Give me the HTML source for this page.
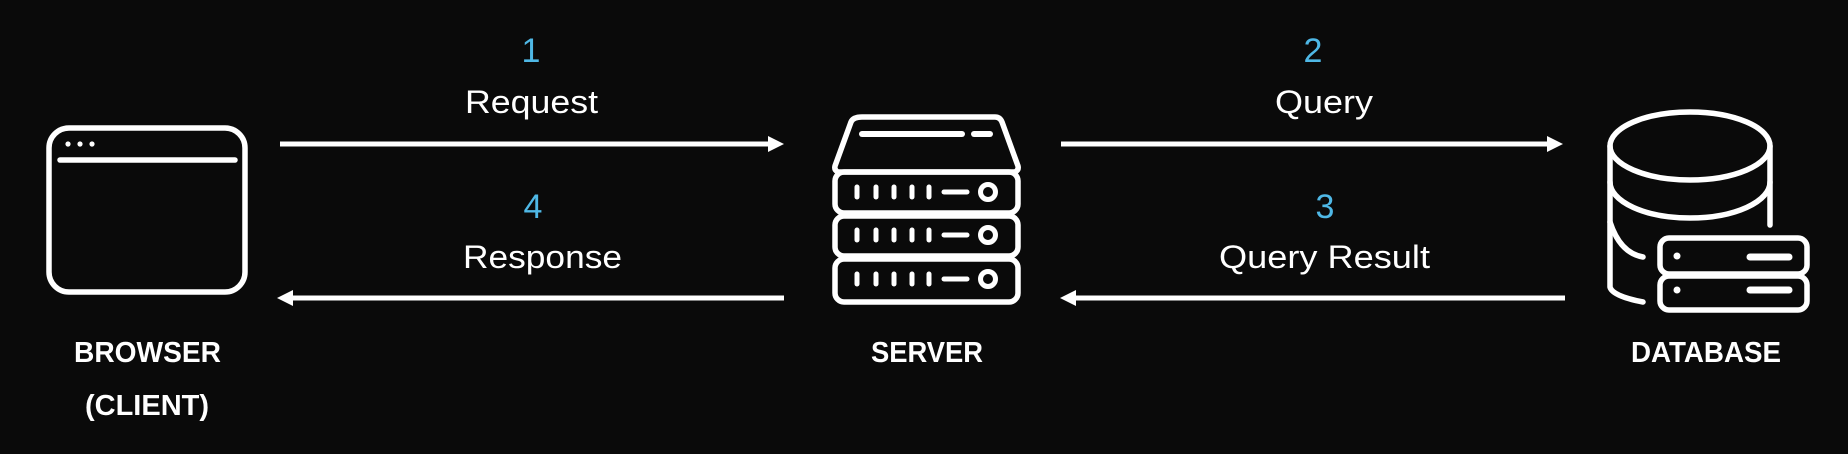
<!DOCTYPE html>
<html><head><meta charset="utf-8"><style>
html,body{margin:0;padding:0;background:#0a0a0a;}
svg{display:block;}
text{font-family:"Liberation Sans",sans-serif;fill:#fff;}
</style></head><body>
<svg width="1848" height="454" viewBox="0 0 1848 454" xmlns="http://www.w3.org/2000/svg">
<rect width="1848" height="454" fill="#0a0a0a"/>
<g fill="none" stroke="#fff" stroke-width="5.5" stroke-linecap="round" stroke-linejoin="round">
  <rect x="49" y="128" width="196" height="164" rx="20"/>
  <line x1="60" y1="160" x2="235" y2="160"/>
  <path d="M862 117 L995 117 Q1000 117 1002 122 L1018 166 Q1019 170 1015 172 L838 172 Q834 170 835 166 L851 122 Q853 117 862 117 Z"/>
  <line x1="862" y1="134" x2="962" y2="134" stroke-width="6"/>
  <line x1="974" y1="134" x2="990" y2="134" stroke-width="6"/>
  <rect x="835" y="172" width="183" height="41" rx="9"/>
  <rect x="835" y="216" width="183" height="40" rx="9"/>
  <rect x="835" y="259" width="183" height="43" rx="9"/>
  <ellipse cx="1690" cy="146" rx="80" ry="34"/>
  <path d="M1610 146 L1610 287 Q1612 296 1643 302"/>
  <line x1="1770" y1="146" x2="1770" y2="225"/>
  <path d="M1610 182 A80 36 0 0 0 1770 182"/>
  <path d="M1610 222 Q1620 253 1643 257"/>
</g>
<g stroke="#fff" stroke-width="5" stroke-linecap="round" fill="none">
  <g id="u1">
    <line x1="857" y1="187" x2="857" y2="197"/>
    <line x1="876" y1="187" x2="876" y2="197"/>
    <line x1="894" y1="187" x2="894" y2="197"/>
    <line x1="912" y1="187" x2="912" y2="197"/>
    <line x1="929" y1="187" x2="929" y2="197"/>
    <line x1="944" y1="192" x2="967" y2="192"/>
    <circle cx="988" cy="192" r="7.5"/>
  </g>
  <use href="#u1" y="43"/>
  <use href="#u1" y="87"/>
</g>
<rect x="1655" y="233" width="156" height="80" fill="#0a0a0a" stroke="#0a0a0a" stroke-width="10"/>
<g fill="none" stroke="#fff" stroke-width="5.5" stroke-linecap="round">
  <rect x="1660" y="238" width="147" height="36" rx="9"/>
  <rect x="1660" y="276" width="147" height="34" rx="9"/>
  <line x1="1750" y1="257" x2="1789" y2="257" stroke-width="7"/>
  <line x1="1750" y1="290" x2="1789" y2="290" stroke-width="7"/>
</g>
<circle cx="1677" cy="256" r="3.5" fill="#fff"/>
<circle cx="1677" cy="290" r="3.5" fill="#fff"/>
<circle cx="68" cy="144" r="2.6" fill="#fff"/>
<circle cx="80" cy="144" r="2.6" fill="#fff"/>
<circle cx="92" cy="144" r="2.6" fill="#fff"/>
<g stroke="#fff" stroke-width="5">
  <line x1="280" y1="144" x2="772" y2="144"/>
  <line x1="1061" y1="144" x2="1551" y2="144"/>
  <line x1="290" y1="298" x2="784" y2="298"/>
  <line x1="1073" y1="298" x2="1565" y2="298"/>
</g>
<g fill="#fff">
  <polygon points="768,136 784,144 768,152"/>
  <polygon points="1547,136 1563,144 1547,152"/>
  <polygon points="293,290 277,298 293,306"/>
  <polygon points="1076,290 1060,298 1076,306"/>
</g>
<g style="font-size:34px" text-anchor="middle">
  <text x="531" y="62" style="fill:#4fb8e6">1</text>
  <text x="1313" y="62" style="fill:#4fb8e6">2</text>
  <text x="533" y="218" style="fill:#4fb8e6">4</text>
  <text x="1325" y="218" style="fill:#4fb8e6">3</text>
</g>
<g style="font-size:32px">
  <text x="465" y="113" textLength="133" lengthAdjust="spacingAndGlyphs">Request</text>
  <text x="463" y="268" textLength="159" lengthAdjust="spacingAndGlyphs">Response</text>
  <text x="1275" y="113" textLength="98" lengthAdjust="spacingAndGlyphs">Query</text>
  <text x="1219" y="268" textLength="211" lengthAdjust="spacingAndGlyphs">Query Result</text>
</g>
<g style="font-size:29px;font-weight:bold">
  <text x="74" y="362" textLength="147" lengthAdjust="spacingAndGlyphs">BROWSER</text>
  <text x="85" y="415" textLength="124" lengthAdjust="spacingAndGlyphs">(CLIENT)</text>
  <text x="871" y="362" textLength="112" lengthAdjust="spacingAndGlyphs">SERVER</text>
  <text x="1631" y="362" textLength="150" lengthAdjust="spacingAndGlyphs">DATABASE</text>
</g>
</svg>
</body></html>
